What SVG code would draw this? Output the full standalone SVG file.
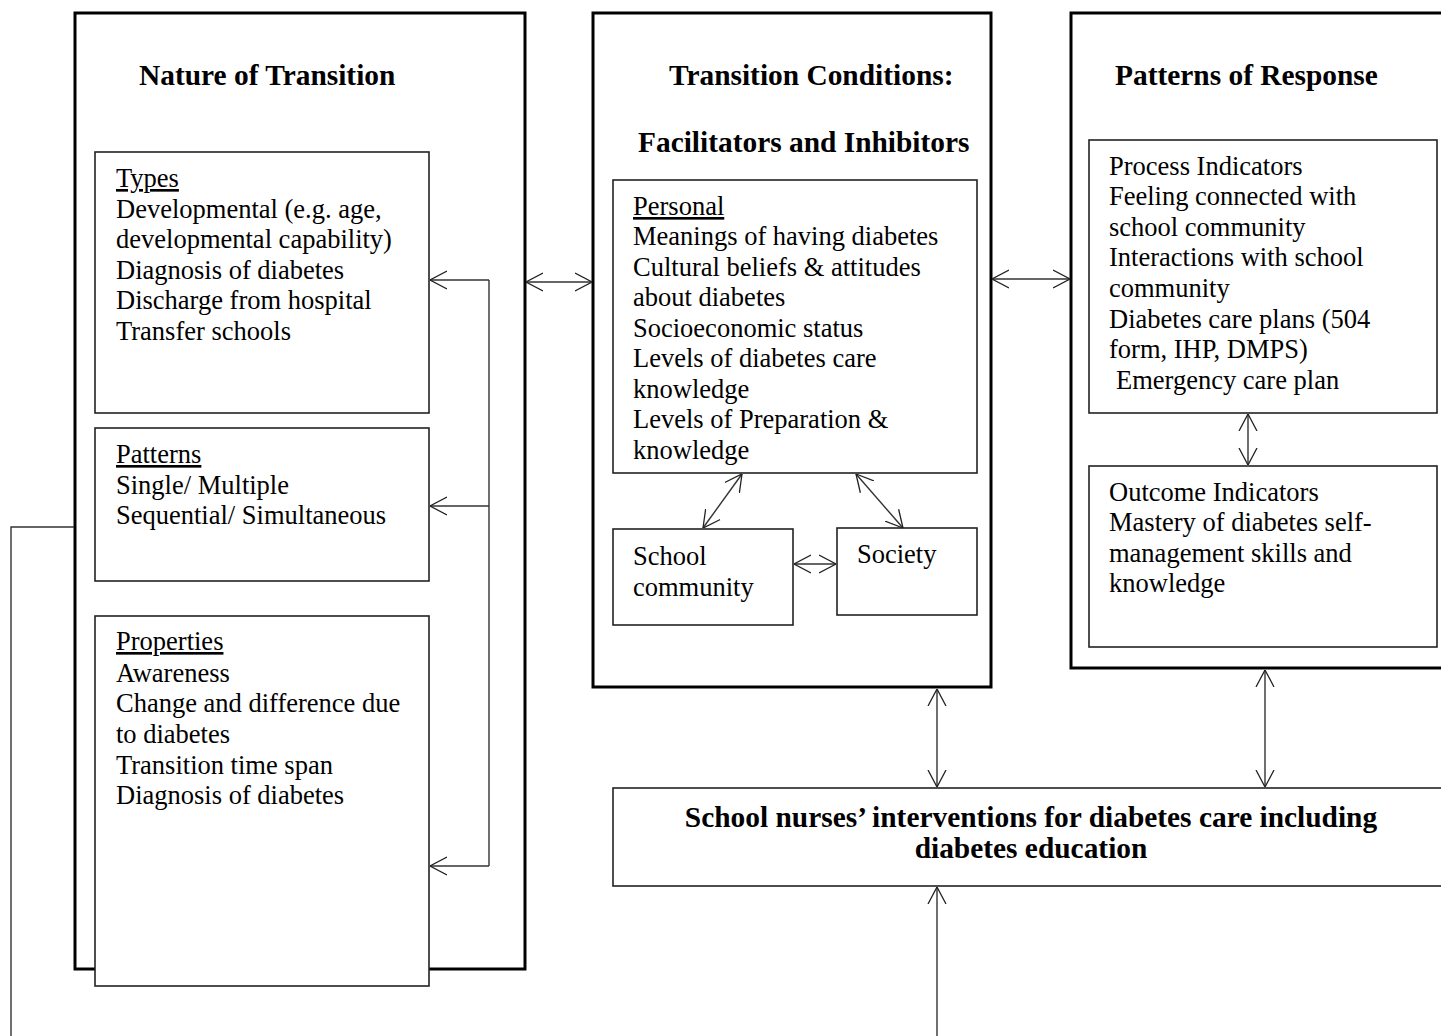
<svg xmlns="http://www.w3.org/2000/svg" width="1441" height="1036" viewBox="0 0 1441 1036">
<defs>
<style>
.outer{fill:none;stroke:#000;stroke-width:3}
.inner{fill:#fff;stroke:#222;stroke-width:1.6}
.t{font-family:"Liberation Serif","Times New Roman",serif;font-size:26.5px;fill:#000}
.h{font-family:"Liberation Serif","Times New Roman",serif;font-size:29.4px;font-weight:bold;fill:#000}
.c{fill:none;stroke:#333;stroke-width:1.4}
.u{text-decoration:underline}
</style>
<marker id="arr" viewBox="0 0 17 20" refX="17" refY="10" markerWidth="17" markerHeight="20" markerUnits="userSpaceOnUse" orient="auto-start-reverse">
<path d="M0,1 L17,10 L0,19" fill="none" stroke="#222" stroke-width="1.3"/>
</marker>
</defs>
<rect width="1441" height="1036" fill="#fff"/>

<g id="nature">
<rect class="outer" x="75" y="13" width="450" height="956"/>
<text class="h" x="139" y="85">Nature of Transition</text>
</g>
<g id="types">
<rect class="inner" x="95" y="152" width="334" height="261"/>
<text class="t" x="116" y="187"><tspan class="u">Types</tspan></text>
<text class="t" x="116" y="218">Developmental (e.g. age,</text>
<text class="t" x="116" y="248">developmental capability)</text>
<text class="t" x="116" y="279">Diagnosis of diabetes</text>
<text class="t" x="116" y="309">Discharge from hospital</text>
<text class="t" x="116" y="340">Transfer schools</text>
</g>
<g id="patterns">
<rect class="inner" x="95" y="428" width="334" height="153"/>
<text class="t" x="116" y="463"><tspan class="u">Patterns</tspan></text>
<text class="t" x="116" y="494">Single/ Multiple</text>
<text class="t" x="116" y="524">Sequential/ Simultaneous</text>
</g>
<g id="properties">
<rect class="inner" x="95" y="616" width="334" height="370"/>
<text class="t" x="116" y="650"><tspan class="u">Properties</tspan></text>
<text class="t" x="116" y="682">Awareness</text>
<text class="t" x="116" y="712">Change and difference due</text>
<text class="t" x="116" y="743">to diabetes</text>
<text class="t" x="116" y="774">Transition time span</text>
<text class="t" x="116" y="804">Diagnosis of diabetes</text>
</g>

<g id="conditions">
<rect class="outer" x="593" y="13" width="398" height="674"/>
<text class="h" x="669" y="85">Transition Conditions:</text>
<text class="h" x="638" y="152">Facilitators and Inhibitors</text>
</g>
<g id="personal">
<rect class="inner" x="613" y="180" width="364" height="293"/>
<text class="t" x="633" y="215"><tspan class="u">Personal</tspan></text>
<text class="t" x="633" y="245">Meanings of having diabetes</text>
<text class="t" x="633" y="276">Cultural beliefs &amp; attitudes</text>
<text class="t" x="633" y="306">about diabetes</text>
<text class="t" x="633" y="337">Socioeconomic status</text>
<text class="t" x="633" y="367">Levels of diabetes care</text>
<text class="t" x="633" y="398">knowledge</text>
<text class="t" x="633" y="428">Levels of Preparation &amp;</text>
<text class="t" x="633" y="459">knowledge</text>
</g>
<g id="school">
<rect class="inner" x="613" y="529" width="180" height="96"/>
<text class="t" x="633" y="565">School</text>
<text class="t" x="633" y="596">community</text>
</g>
<g id="society">
<rect class="inner" x="837" y="528" width="140" height="87"/>
<text class="t" x="857" y="563">Society</text>
</g>

<g id="response">
<rect class="outer" x="1071" y="13" width="400" height="655"/>
<text class="h" x="1115" y="85">Patterns of Response</text>
</g>
<g id="process">
<rect class="inner" x="1089" y="140" width="348" height="273"/>
<text class="t" x="1109" y="175">Process Indicators</text>
<text class="t" x="1109" y="205">Feeling connected with</text>
<text class="t" x="1109" y="236">school community</text>
<text class="t" x="1109" y="266">Interactions with school</text>
<text class="t" x="1109" y="297">community</text>
<text class="t" x="1109" y="328">Diabetes care plans (504</text>
<text class="t" x="1109" y="358">form, IHP, DMPS)</text>
<text class="t" x="1116" y="389">Emergency care plan</text>
</g>
<g id="outcome">
<rect class="inner" x="1089" y="466" width="348" height="181"/>
<text class="t" x="1109" y="501">Outcome Indicators</text>
<text class="t" x="1109" y="531">Mastery of diabetes self-</text>
<text class="t" x="1109" y="562">management skills and</text>
<text class="t" x="1109" y="592">knowledge</text>
</g>

<g id="interventions">
<rect class="inner" x="613" y="788" width="860" height="98"/>
<text class="h" x="1031" y="827" text-anchor="middle">School nurses’ interventions for diabetes care including</text>
<text class="h" x="1031" y="858" text-anchor="middle">diabetes education</text>
</g>

<g id="connectors">
<polyline class="c" points="489,280 489,866"/>
<line class="c" x1="489" y1="280" x2="430" y2="280" marker-end="url(#arr)"/>
<line class="c" x1="489" y1="506" x2="430" y2="506" marker-end="url(#arr)"/>
<line class="c" x1="489" y1="866" x2="430" y2="866" marker-end="url(#arr)"/>
<line class="c" x1="526" y1="282" x2="592" y2="282" marker-start="url(#arr)" marker-end="url(#arr)"/>
<line class="c" x1="992" y1="279" x2="1070" y2="279" marker-start="url(#arr)" marker-end="url(#arr)"/>
<line class="c" x1="742" y1="474" x2="703" y2="528" marker-start="url(#arr)" marker-end="url(#arr)"/>
<line class="c" x1="856" y1="474" x2="903" y2="528" marker-start="url(#arr)" marker-end="url(#arr)"/>
<line class="c" x1="794" y1="564" x2="836" y2="564" marker-start="url(#arr)" marker-end="url(#arr)"/>
<line class="c" x1="1248" y1="414" x2="1248" y2="465" marker-start="url(#arr)" marker-end="url(#arr)"/>
<line class="c" x1="937" y1="689" x2="937" y2="787" marker-start="url(#arr)" marker-end="url(#arr)"/>
<line class="c" x1="1265" y1="670" x2="1265" y2="787" marker-start="url(#arr)" marker-end="url(#arr)"/>
<line class="c" x1="937" y1="1036" x2="937" y2="887" marker-end="url(#arr)"/>
<polyline class="c" points="74,527 11,527 11,1036"/>
</g>
</svg>
